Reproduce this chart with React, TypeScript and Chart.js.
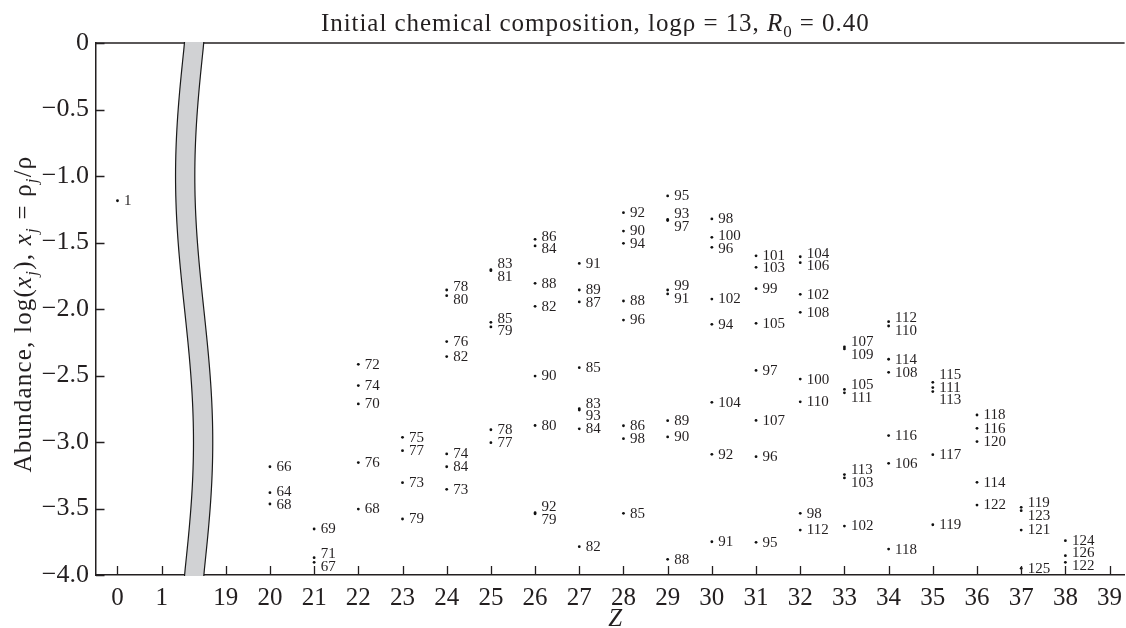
import React, { useEffect, useRef } from 'react';
import { Chart, registerables } from 'chart.js';

Chart.register(...registerables);

// ---------- data ----------
// x-axis tick labels (axis is broken between Z = 1 and Z = 19)
const tickZ = [0, 1, 19, 20, 21, 22, 23, 24, 25, 26, 27, 28, 29, 30, 31, 32, 33, 34, 35, 36, 37, 38, 39];
const yTickValues = [0, -0.5, -1, -1.5, -2, -2.5, -3, -3.5, -4];

// charge numbers that carry nuclides
const zGroups = [0, 20, 21, 22, 23, 24, 25, 26, 27, 28, 29, 30, 31, 32, 33, 34, 35, 36, 37, 38];

// mass numbers A of each nuclide, per Z
const massNumbers = [
  [1],
  [66, 64, 68],
  [69, 71, 67],
  [72, 74, 70, 76, 68],
  [75, 77, 73, 79],
  [78, 80, 76, 82, 74, 84, 73],
  [83, 81, 85, 79, 78, 77],
  [86, 84, 88, 82, 90, 80, 92, 79],
  [91, 89, 87, 85, 83, 93, 84, 82],
  [92, 90, 94, 88, 96, 86, 98, 85],
  [95, 93, 97, 99, 91, 89, 90, 88],
  [98, 100, 96, 102, 94, 104, 92, 91],
  [101, 103, 99, 105, 97, 107, 96, 95],
  [104, 106, 102, 108, 100, 110, 98, 112],
  [107, 109, 105, 111, 113, 103, 102],
  [112, 110, 114, 108, 116, 106, 118],
  [115, 111, 113, 117, 119],
  [118, 116, 120, 114, 122],
  [119, 123, 121, 125],
  [124, 126, 122],
];

// log10 of mass fraction, per Z (same order as massNumbers)
const logAbundance = [
  [-1.186],
  [-3.186, -3.381, -3.466],
  [-3.654, -3.870, -3.905],
  [-2.416, -2.576, -2.714, -3.155, -3.504],
  [-2.965, -3.065, -3.306, -3.579],
  [-1.857, -1.900, -2.245, -2.358, -3.090, -3.186, -3.356],
  [-1.705, -1.712, -2.100, -2.135, -2.908, -3.005],
  [-1.476, -1.526, -1.807, -1.980, -2.504, -2.876, -3.532, -3.540],
  [-1.657, -1.857, -1.947, -2.441, -2.750, -2.760, -2.901, -3.787],
  [-1.276, -1.414, -1.506, -1.940, -2.083, -2.878, -2.975, -3.536],
  [-1.150, -1.327, -1.335, -1.857, -1.887, -2.840, -2.962, -3.882],
  [-1.323, -1.461, -1.536, -1.925, -2.115, -2.702, -3.093, -3.750],
  [-1.600, -1.687, -1.847, -2.108, -2.462, -2.838, -3.110, -3.754],
  [-1.607, -1.652, -1.890, -2.025, -2.527, -2.698, -3.536, -3.662],
  [-2.285, -2.300, -2.605, -2.630, -3.245, -3.270, -3.632],
  [-2.095, -2.128, -2.378, -2.476, -2.952, -3.160, -3.805],
  [-2.551, -2.591, -2.621, -3.095, -3.622],
  [-2.797, -2.897, -2.997, -3.303, -3.474],
  [-3.491, -3.516, -3.662, -3.950],
  [-3.742, -3.855, -3.905],
];

// ---------- axis break ----------
const BREAK_SHIFT = 16.55; // Z >= 19 are drawn shifted left by this amount
const zPos = (z: number) => (z >= 19 ? z - BREAK_SHIFT : z);
const BREAK_CENTER = 1.735;
const BREAK_SWAY = 0.203;
const BREAK_HALF = 0.218;

const SERIF = '"Liberation Serif", "Times New Roman", serif';
const INK = '#231f20';

type Seg = { t: string; italic?: boolean; sub?: boolean };

function drawRich(
  ctx: CanvasRenderingContext2D,
  segs: Seg[],
  x: number,
  y: number,
  size: number,
  align: 'center' | 'left',
  spacing = 0
) {
  const fontOf = (s: Seg) => `${s.italic ? 'italic ' : ''}${s.sub ? Math.round(size * 0.68) : size}px ${SERIF}`;
  (ctx as any).letterSpacing = `${spacing}px`;
  let total = 0;
  const widths = segs.map((s) => {
    ctx.font = fontOf(s);
    const w = ctx.measureText(s.t).width;
    total += w;
    return w;
  });
  let cx = align === 'center' ? x - total / 2 : x;
  ctx.textBaseline = 'alphabetic';
  ctx.textAlign = 'left';
  segs.forEach((s, i) => {
    ctx.font = fontOf(s);
    ctx.fillText(s.t, cx, y + (s.sub ? size * 0.24 : 0));
    cx += widths[i];
  });
  (ctx as any).letterSpacing = '0px';
}

function spread(ys: number[], gap: number): number[] {
  let clusters = ys.map((y) => ({ ys: [y], top: y }));
  let changed = true;
  while (changed) {
    changed = false;
    for (let i = 0; i < clusters.length - 1; i++) {
      const a = clusters[i];
      const b = clusters[i + 1];
      const aBottom = a.top + (a.ys.length - 1) * gap;
      if (b.top - aBottom < gap - 0.01) {
        const all = a.ys.concat(b.ys);
        const mean = all.reduce((s, v) => s + v, 0) / all.length;
        clusters.splice(i, 2, { ys: all, top: mean - ((all.length - 1) * gap) / 2 });
        changed = true;
        break;
      }
    }
  }
  const out: number[] = [];
  clusters.forEach((c) => c.ys.forEach((_, k) => out.push(c.top + k * gap)));
  return out;
}

const decorPlugin = {
  id: 'decor',
  afterDatasetsDraw(chart: any) {
    const ctx: CanvasRenderingContext2D = chart.ctx;
    const xs = chart.scales.x;
    const ys = chart.scales.y;
    ctx.save();
    ctx.fillStyle = INK;
    ctx.font = `15px ${SERIF}`;
    ctx.textBaseline = 'middle';
    ctx.textAlign = 'left';
    zGroups.forEach((z, gi) => {
      const px = xs.getPixelForValue(zPos(z));
      const items = massNumbers[gi]
        .map((a, k) => ({ a, py: ys.getPixelForValue(logAbundance[gi][k]) }))
        .sort((p, q) => p.py - q.py);
      const placed = spread(items.map((it) => it.py), 12.6);
      items.forEach((it, k) => {
        ctx.fillText(String(it.a), px + 6.5, placed[k] + 0.5);
      });
    });
    ctx.restore();
  },
  afterDraw(chart: any) {
    const ctx: CanvasRenderingContext2D = chart.ctx;
    const { left, right, top, bottom } = chart.chartArea;
    const xs = chart.scales.x;
    const ys = chart.scales.y;
    ctx.save();
    // top frame line
    ctx.strokeStyle = INK;
    ctx.lineWidth = 1.5;
    ctx.beginPath();
    ctx.moveTo(left, top);
    ctx.lineTo(right, top);
    ctx.stroke();
    // inward tick marks
    ctx.lineWidth = 1.3;
    ctx.beginPath();
    tickZ.forEach((z) => {
      const px = Math.round(xs.getPixelForValue(zPos(z))) + 0.5;
      ctx.moveTo(px, bottom);
      ctx.lineTo(px, bottom - 9);
    });
    yTickValues.forEach((v) => {
      const py = Math.round(ys.getPixelForValue(v)) + 0.5;
      ctx.moveTo(left, py);
      ctx.lineTo(left + 8.5, py);
    });
    ctx.stroke();

    // axis-break band
    const steps = 80;
    const leftEdge: [number, number][] = [];
    const rightEdge: [number, number][] = [];
    for (let i = 0; i <= steps; i++) {
      const v = -4 * (i / steps);
      const c = BREAK_CENTER + BREAK_SWAY * Math.sin((Math.PI * v) / 2);
      let py = ys.getPixelForValue(v);
      if (i === 0) py -= 1;
      if (i === steps) py += 1;
      leftEdge.push([xs.getPixelForValue(c - BREAK_HALF), py]);
      rightEdge.push([xs.getPixelForValue(c + BREAK_HALF), py]);
    }
    ctx.beginPath();
    leftEdge.forEach(([x, y], i) => (i ? ctx.lineTo(x, y) : ctx.moveTo(x, y)));
    for (let i = rightEdge.length - 1; i >= 0; i--) ctx.lineTo(rightEdge[i][0], rightEdge[i][1]);
    ctx.closePath();
    ctx.fillStyle = '#d1d2d4';
    ctx.fill();
    ctx.strokeStyle = '#1a1a1a';
    ctx.lineWidth = 1.2;
    [leftEdge, rightEdge].forEach((edge) => {
      ctx.beginPath();
      edge.forEach(([x, y], i) => (i ? ctx.lineTo(x, y) : ctx.moveTo(x, y)));
      ctx.stroke();
    });

    // title
    ctx.fillStyle = INK;
    drawRich(
      ctx,
      [
        { t: 'Initial chemical composition, logρ = 13, ' },
        { t: 'R', italic: true },
        { t: '0', sub: true },
        { t: ' = 0.40' },
      ],
      (left + right) / 2 - 15,
      31,
      25,
      'center',
      0.95
    );
    // x title
    drawRich(ctx, [{ t: 'Z', italic: true }], (left + right) / 2 + 5, 626, 25, 'center');
    // y title
    ctx.save();
    ctx.translate(31, (top + bottom) / 2 + 5);
    ctx.rotate(-Math.PI / 2);
    drawRich(
      ctx,
      [
        { t: 'Abundance, log(' },
        { t: 'x', italic: true },
        { t: 'j', italic: true, sub: true },
        { t: '), ' },
        { t: 'x', italic: true },
        { t: 'j', italic: true, sub: true },
        { t: ' = ρ' },
        { t: 'j', italic: true, sub: true },
        { t: '/ρ' },
      ],
      0,
      0,
      25,
      'center',
      1.2
    );
    ctx.restore();
    ctx.restore();
  },
};

export default function App() {
  const ref = useRef<HTMLCanvasElement | null>(null);
  useEffect(() => {
    if (!ref.current) return;
    const points: { x: number; y: number }[] = [];
    zGroups.forEach((z, gi) => {
      logAbundance[gi].forEach((v) => points.push({ x: zPos(z), y: v }));
    });
    const chart = new Chart(ref.current, {
      type: 'scatter',
      data: {
        datasets: [
          {
            data: points,
            pointRadius: 1.4,
            pointBackgroundColor: '#111',
            pointBorderWidth: 0,
            pointHoverRadius: 1.4,
          },
        ],
      },
      options: {
        responsive: false,
        animation: false,
        devicePixelRatio: 1,
        layout: { padding: { top: 43, left: 0, right: 0, bottom: 0 } },
        plugins: { legend: { display: false }, tooltip: { enabled: false }, title: { display: false } },
        events: [],
        scales: {
          x: {
            type: 'linear',
            min: -0.486,
            max: 22.79,
            afterBuildTicks: (scale: any) => {
              scale.ticks = tickZ.map((z) => ({ value: zPos(z) }));
            },
            afterFit: (scale: any) => {
              scale.height = 53;
              scale.paddingLeft = 0;
              scale.paddingRight = 0;
            },
            grid: { display: false, drawTicks: false },
            border: { display: true, color: INK, width: 1.5 },
            ticks: {
              autoSkip: false,
              maxRotation: 0,
              padding: 8,
              color: INK,
              font: { family: SERIF, size: 25 },
              callback: (_v: any, i: number) => String(tickZ[i]),
            },
          },
          y: {
            type: 'linear',
            min: -4,
            max: 0,
            afterBuildTicks: (scale: any) => {
              scale.ticks = yTickValues.map((v) => ({ value: v }));
            },
            afterFit: (scale: any) => {
              scale.width = 96;
              scale.paddingTop = 0;
              scale.paddingBottom = 0;
            },
            grid: { display: false, drawTicks: false },
            border: { display: true, color: INK, width: 1.5 },
            ticks: {
              padding: 7,
              color: INK,
              font: { family: SERIF, size: 26 },
              callback: (v: any) => (Number(v) === 0 ? '0' : '\u2212' + Math.abs(Number(v)).toFixed(1)),
            },
          },
        },
      },
      plugins: [decorPlugin],
    });
    return () => chart.destroy();
  }, []);
  return (
    <div style={{ position: 'absolute', left: 0, top: 0, width: 1126, height: 628, background: '#fff' }}>
      <canvas ref={ref} width={1126} height={628} />
    </div>
  );
}
